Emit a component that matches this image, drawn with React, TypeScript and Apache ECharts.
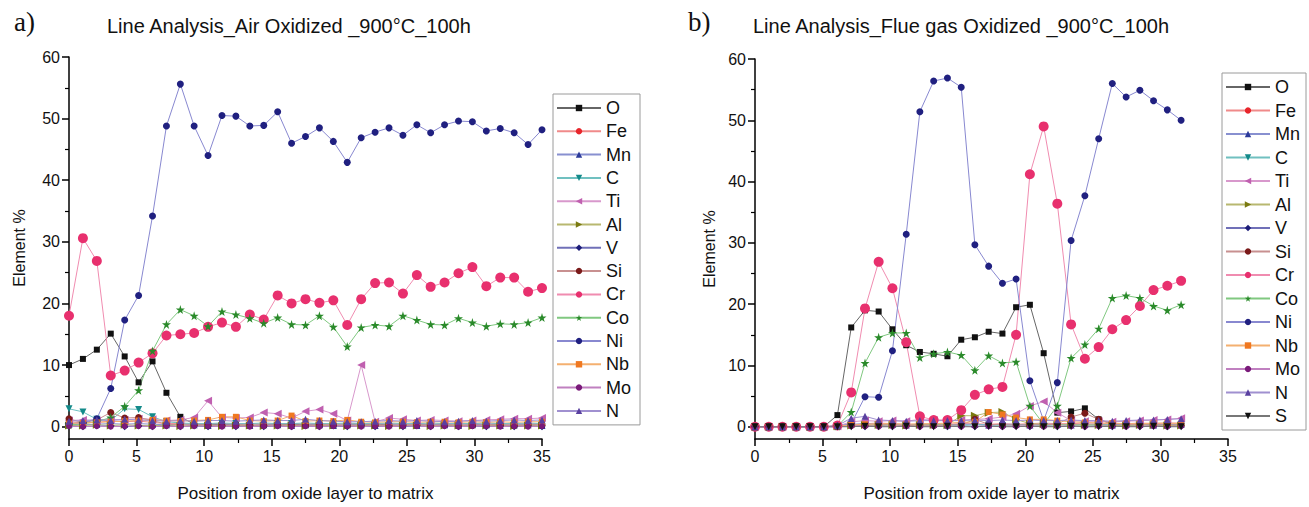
import React, { useEffect, useRef } from "react";
import * as echarts from "echarts";

// ---------- positions ----------
const posA = [0, 1.03, 2.06, 3.09, 4.12, 5.15, 6.18, 7.21, 8.24, 9.26, 10.29, 11.32, 12.35, 13.38, 14.41, 15.44, 16.47, 17.5, 18.53, 19.56, 20.59, 21.62, 22.65, 23.68, 24.71, 25.74, 26.76, 27.79, 28.82, 29.85, 30.88, 31.91, 32.94, 33.97, 35];
const posB = [0, 1.02, 2.03, 3.05, 4.07, 5.09, 6.1, 7.12, 8.14, 9.15, 10.17, 11.19, 12.2, 13.22, 14.24, 15.26, 16.27, 17.29, 18.31, 19.32, 20.34, 21.36, 22.37, 23.39, 24.41, 25.43, 26.44, 27.46, 28.48, 29.49, 30.51, 31.53];

// ---------- a) Air oxidized ----------
const O_A = [10.0, 11.0, 12.5, 15.1, 11.4, 7.2, 10.6, 5.5, 1.6, 0.4, 0.3, 0.4, 0.3, 0.2, 0.3, 0.3, 0.4, 0.3, 0.3, 0.2, 0.3, 0.3, 0.4, 0.3, 0.2, 0.3, 0.3, 0.3, 0.2, 0.3, 0.3, 0.3, 0.2, 0.3, 0.3];
const Fe_A = [0.8, 0.6, 0.7, 0.9, 0.8, 0.9, 0.7, 0.5, 0.5, 0.4, 0.5, 0.5, 0.4, 0.5, 0.4, 0.5, 0.5, 0.4, 0.5, 0.4, 0.5, 0.5, 0.4, 0.5, 0.4, 0.5, 0.4, 0.5, 0.4, 0.5, 0.4, 0.5, 0.4, 0.5, 0.4];
const Mn_A = [0.4, 0.3, 0.4, 0.5, 0.4, 0.5, 0.4, 0.3, 0.3, 0.3, 0.2, 0.3, 0.3, 0.2, 0.3, 0.3, 0.2, 0.3, 0.3, 0.2, 0.3, 0.3, 0.2, 0.3, 0.3, 0.2, 0.3, 0.3, 0.2, 0.3, 0.3, 0.2, 0.3, 0.3, 0.2];
const C_A = [2.9, 2.4, 1.2, 1.0, 2.9, 2.8, 1.6, 0.8, 0.6, 0.5, 0.5, 0.6, 0.5, 0.5, 0.6, 0.5, 0.5, 0.6, 0.5, 0.5, 0.6, 0.5, 0.5, 0.6, 0.5, 0.5, 0.6, 0.5, 0.5, 0.5, 0.6, 0.5, 0.5, 0.6, 0.5];
const Ti_A = [1.0, 1.1, 1.0, 1.2, 1.1, 1.3, 1.2, 1.0, 1.1, 1.5, 4.2, 1.5, 1.4, 1.5, 2.3, 2.1, 1.4, 2.5, 2.8, 2.1, 1.0, 10.0, 0.8, 1.4, 1.2, 1.0, 1.1, 1.0, 0.9, 1.0, 1.1, 1.2, 1.3, 1.3, 1.4];
const Al_A = [0.2, 0.2, 0.3, 0.2, 0.3, 0.2, 0.2, 0.2, 0.1, 0.2, 0.2, 0.1, 0.2, 0.2, 0.1, 0.2, 0.2, 0.1, 0.2, 0.2, 0.1, 0.2, 0.2, 0.1, 0.2, 0.2, 0.1, 0.2, 0.2, 0.1, 0.2, 0.2, 0.1, 0.2, 0.2];
const V_A = [0.1, 0.0, 0.1, 0.1, 0.0, 0.1, 0.0, 0.1, 0.0, 0.1, 0.0, 0.1, 0.0, 0.1, 0.0, 0.1, 0.0, 0.1, 0.0, 0.1, 0.0, 0.1, 0.0, 0.1, 0.0, 0.1, 0.0, 0.1, 0.0, 0.1, 0.0, 0.1, 0.0, 0.1, 0.0];
const Si_A = [1.3, 0.6, 1.1, 2.3, 1.4, 1.5, 1.0, 0.4, 0.3, 0.3, 0.3, 0.2, 0.3, 0.3, 0.2, 0.3, 0.3, 0.2, 0.3, 0.3, 0.2, 0.3, 0.3, 0.2, 0.3, 0.3, 0.2, 0.3, 0.3, 0.2, 0.3, 0.3, 0.2, 0.3, 0.3];
const Cr_A = [18.0, 30.6, 26.9, 8.3, 9.1, 10.4, 11.9, 14.8, 15.0, 15.2, 16.2, 16.9, 16.2, 18.2, 17.4, 21.3, 20.0, 20.7, 20.1, 20.5, 16.5, 20.7, 23.3, 23.4, 21.6, 24.6, 22.7, 23.4, 24.9, 25.9, 22.8, 24.2, 24.2, 21.9, 22.5];
const Co_A = [0.3, 0.5, 0.8, 1.5, 3.3, 5.9, 12.3, 16.6, 19.0, 18.0, 16.3, 18.7, 18.2, 17.6, 16.8, 17.7, 16.6, 16.5, 18.0, 16.2, 13.0, 16.1, 16.5, 16.3, 18.0, 17.3, 16.6, 16.5, 17.6, 16.9, 16.3, 16.7, 16.6, 16.9, 17.7];
const Ni_A = [0.5, 0.6, 1.3, 6.2, 17.3, 21.3, 34.2, 48.8, 55.6, 48.8, 44.0, 50.5, 50.4, 48.8, 48.9, 51.1, 46.0, 47.1, 48.5, 46.3, 42.9, 46.9, 47.8, 48.5, 47.3, 49.0, 47.7, 49.0, 49.6, 49.5, 48.0, 48.4, 47.7, 45.8, 48.2];
const Nb_A = [0.5, 0.6, 0.7, 0.8, 0.9, 1.0, 1.1, 1.0, 0.9, 1.0, 1.1, 1.6, 1.6, 1.0, 0.9, 1.0, 1.8, 0.9, 1.0, 0.9, 1.1, 0.8, 0.7, 0.8, 0.8, 0.7, 0.8, 0.8, 0.7, 0.8, 0.7, 0.8, 0.7, 0.8, 0.8];
const Mo_A = [0.1, 0.0, 0.1, 0.0, 0.1, 0.1, 0.0, 0.1, 0.0, 0.1, 0.1, 0.0, 0.1, 0.0, 0.1, 0.1, 0.0, 0.1, 0.0, 0.1, 0.1, 0.0, 0.1, 0.0, 0.1, 0.1, 0.0, 0.1, 0.0, 0.1, 0.1, 0.0, 0.1, 0.0, 0.1];
const N_A = [0.9, 1.0, 1.1, 1.0, 1.2, 1.1, 1.0, 0.9, 1.0, 0.9, 1.0, 1.0, 0.9, 1.0, 1.1, 1.0, 1.0, 1.2, 1.0, 0.9, 0.8, 0.8, 0.9, 1.0, 0.9, 1.0, 0.9, 0.8, 0.9, 1.0, 0.9, 1.0, 1.1, 1.0, 1.1];

// ---------- b) Flue gas oxidized ----------
const O_B = [0, 0, 0, 0, 0, 0, 1.9, 16.2, 19.0, 18.8, 15.9, 13.3, 12.2, 11.9, 11.5, 14.2, 14.6, 15.5, 15.2, 19.5, 19.9, 12.0, 2.3, 2.5, 3.0, 1.2, 0.4, 0.3, 0.3, 0.4, 0.3, 0.3];
const Fe_B = [0, 0, 0, 0, 0, 0, 0.1, 0.3, 0.5, 0.6, 0.5, 0.4, 0.4, 0.5, 0.4, 0.5, 0.5, 0.4, 0.5, 0.4, 0.5, 0.6, 0.5, 0.5, 0.6, 0.6, 0.5, 0.5, 0.6, 0.5, 0.6, 0.6];
const Mn_B = [0, 0, 0, 0, 0, 0, 0.1, 0.4, 0.5, 0.4, 0.4, 0.3, 0.4, 0.4, 0.3, 0.4, 0.4, 0.3, 0.4, 0.4, 0.3, 0.4, 0.4, 0.3, 0.4, 0.4, 0.3, 0.4, 0.4, 0.3, 0.4, 0.4];
const C_B = [0, 0, 0, 0, 0, 0, 0.1, 0.3, 0.3, 0.2, 0.3, 0.3, 0.2, 0.3, 0.3, 0.2, 0.3, 0.3, 0.2, 0.3, 0.3, 0.2, 0.3, 0.3, 0.2, 0.3, 0.3, 0.2, 0.3, 0.3, 0.2, 0.3];
const Ti_B = [0, 0, 0, 0, 0, 0, 0.1, 0.8, 1.0, 0.9, 1.0, 0.9, 1.2, 1.1, 1.0, 1.1, 1.2, 1.3, 1.6, 2.1, 3.4, 4.1, 2.3, 1.0, 0.9, 0.9, 0.8, 0.9, 1.0, 1.1, 1.2, 1.4];
const Al_B = [0, 0, 0, 0, 0, 0, 0.1, 0.2, 0.3, 0.3, 0.3, 0.2, 0.3, 0.3, 0.3, 1.8, 1.8, 2.3, 2.4, 1.2, 0.5, 0.4, 0.3, 0.3, 0.3, 0.3, 0.2, 0.2, 0.3, 0.3, 0.2, 0.2];
const V_B = [0, 0, 0, 0, 0, 0, 0.0, 0.1, 0.0, 0.1, 0.0, 0.1, 0.0, 0.1, 0.0, 0.1, 0.0, 0.1, 0.0, 0.1, 0.0, 0.1, 0.0, 0.1, 0.0, 0.1, 0.0, 0.1, 0.0, 0.1, 0.0, 0.1];
const Si_B = [0, 0, 0, 0, 0, 0, 0.1, 0.2, 0.2, 0.3, 0.3, 0.2, 0.3, 0.2, 0.3, 0.3, 1.2, 0.4, 0.3, 0.3, 0.3, 0.3, 0.4, 1.6, 2.2, 1.2, 0.5, 0.4, 0.3, 0.3, 0.3, 0.3];
const Cr_B = [0, 0, 0, 0, 0, 0, 0.2, 5.6, 19.3, 26.9, 22.6, 13.8, 1.7, 1.1, 1.1, 2.7, 5.2, 6.1, 6.5, 15.0, 41.2, 49.0, 36.4, 16.7, 11.1, 13.0, 15.9, 17.4, 19.7, 22.3, 23.0, 23.8];
const Co_B = [0, 0, 0, 0, 0, 0, 0.1, 2.4, 10.4, 14.6, 15.3, 15.3, 11.3, 11.9, 12.2, 11.7, 9.2, 11.6, 10.4, 10.6, 3.4, 0.4, 3.4, 11.2, 13.4, 16.0, 21.0, 21.4, 21.0, 19.7, 19.0, 19.9];
const Ni_B = [0, 0, 0, 0, 0, 0, 0.1, 0.5, 4.9, 4.8, 12.4, 31.4, 51.4, 56.4, 56.9, 55.4, 29.7, 26.2, 23.4, 24.1, 7.5, 1.0, 7.2, 30.4, 37.7, 47.0, 56.0, 53.8, 54.9, 53.2, 51.7, 50.0];
const Nb_B = [0, 0, 0, 0, 0, 0, 0.1, 0.3, 0.4, 0.5, 0.5, 0.4, 0.5, 0.5, 0.6, 0.7, 0.8, 2.4, 2.0, 1.5, 1.2, 1.2, 1.0, 0.8, 0.7, 0.6, 0.6, 0.5, 0.5, 0.6, 0.6, 0.5];
const Mo_B = [0, 0, 0, 0, 0, 0, 0.0, 0.1, 0.1, 0.0, 0.1, 0.1, 0.0, 0.1, 0.1, 0.0, 0.1, 0.1, 0.0, 0.1, 0.1, 0.0, 0.1, 0.1, 0.0, 0.1, 0.1, 0.0, 0.1, 0.1, 0.0, 0.1];
const N_B = [0, 0, 0, 0, 0, 0, 0.2, 1.4, 1.7, 1.1, 1.0, 0.9, 1.0, 1.0, 1.0, 1.0, 1.1, 1.0, 1.1, 1.0, 1.1, 1.0, 1.0, 1.1, 1.0, 1.0, 0.9, 1.0, 1.1, 1.1, 1.2, 1.3];
const S_B = [0, 0, 0, 0, 0, 0, 0.0, 0.0, 0.1, 0.0, 0.0, 0.1, 0.0, 0.0, 0.1, 0.0, 0.0, 0.1, 0.0, 0.0, 0.1, 0.0, 0.0, 0.1, 0.0, 0.0, 0.1, 0.0, 0.0, 0.1, 0.0, 0.0];

const namesA = ["O", "Fe", "Mn", "C", "Ti", "Al", "V", "Si", "Cr", "Co", "Ni", "Nb", "Mo", "N"];
const namesB = ["O", "Fe", "Mn", "C", "Ti", "Al", "V", "Si", "Cr", "Co", "Ni", "Nb", "Mo", "N", "S"];
const valuesA = [O_A, Fe_A, Mn_A, C_A, Ti_A, Al_A, V_A, Si_A, Cr_A, Co_A, Ni_A, Nb_A, Mo_A, N_A];
const valuesB = [O_B, Fe_B, Mn_B, C_B, Ti_B, Al_B, V_B, Si_B, Cr_B, Co_B, Ni_B, Nb_B, Mo_B, N_B, S_B];

const yLabels = [0, 10, 20, 30, 40, 50, 60];
const yMinor = [5, 15, 25, 35, 45, 55];

const STAR = "path://M50,0 L61,35 L98,35 L68,57 L79,91 L50,70 L21,91 L32,57 L2,35 L39,35 Z";

const styles: Record<string, { m: string; l: string; sym: string; size: number; rot?: number }> = {
  O: { m: "#111111", l: "#666666", sym: "rect", size: 6 },
  Fe: { m: "#e8252b", l: "#f08a8a", sym: "circle", size: 6 },
  Mn: { m: "#2b3a9a", l: "#8890d0", sym: "triangle", size: 7 },
  C: { m: "#138a8a", l: "#70c0c0", sym: "triangle", size: 7, rot: 180 },
  Ti: { m: "#c060b0", l: "#d898cc", sym: "triangle", size: 8, rot: 90 },
  Al: { m: "#7a7a10", l: "#b8b870", sym: "triangle", size: 8, rot: -90 },
  V: { m: "#1c1c78", l: "#7070b8", sym: "diamond", size: 7 },
  Si: { m: "#7a1a1a", l: "#c89090", sym: "circle", size: 7 },
  Cr: { m: "#e8306e", l: "#f08cb0", sym: "circle", size: 10 },
  Co: { m: "#2a8a2a", l: "#80c880", sym: STAR, size: 9 },
  Ni: { m: "#202080", l: "#8888d0", sym: "circle", size: 7 },
  Nb: { m: "#f07820", l: "#f4b070", sym: "rect", size: 6 },
  Mo: { m: "#7a1a7a", l: "#c080c0", sym: "circle", size: 6 },
  N: { m: "#5a40a0", l: "#a090d0", sym: "triangle", size: 7 },
  S: { m: "#111111", l: "#777777", sym: "triangle", size: 7, rot: 180 },
};

const FONT = "'Liberation Sans', Arial, sans-serif";

function makeSeries(names: string[], values: number[][], pos: number[], xi: number, yi: number) {
  return names.map((n, k) => {
    const s = styles[n];
    return {
      name: n,
      type: "line",
      xAxisIndex: xi,
      yAxisIndex: yi,
      data: values[k].map((v, i) => [pos[i], v]),
      symbol: s.sym,
      symbolSize: s.size,
      symbolRotate: s.rot || 0,
      showAllSymbol: true,
      lineStyle: { color: s.l, width: 1 },
      itemStyle: { color: s.m },
      emphasis: { disabled: true },
    };
  });
}

function xAxisDef(gi: number) {
  return {
    type: "value",
    gridIndex: gi,
    min: 0,
    max: 35,
    interval: 5,
    axisLine: { onZero: false, lineStyle: { color: "#000", width: 1.5 } },
    axisTick: { length: 7, lineStyle: { color: "#000", width: 1.5 } },
    minorTick: { show: true, splitNumber: 2, length: 4, lineStyle: { color: "#000", width: 1.2 } },
    axisLabel: { color: "#111", fontSize: 16, fontFamily: FONT, margin: 9 },
    splitLine: { show: false },
    name: "Position from oxide layer to matrix",
    nameLocation: "middle",
    nameGap: 46,
    nameTextStyle: { color: "#111", fontSize: 17, fontFamily: FONT },
  };
}

function yAxisMain(gi: number, gap: number) {
  return {
    type: "value",
    gridIndex: gi,
    min: -2,
    max: 60,
    position: "left",
    axisLine: { show: true, onZero: false, lineStyle: { color: "#000", width: 1.5 } },
    axisTick: { show: true, length: 7, customValues: yLabels, lineStyle: { color: "#000", width: 1.5 } },
    axisLabel: { color: "#111", fontSize: 16, fontFamily: FONT, margin: 9, customValues: yLabels },
    splitLine: { show: false },
    name: "Element %",
    nameLocation: "middle",
    nameGap: gap,
    nameRotate: 90,
    nameTextStyle: { color: "#111", fontSize: 16, fontFamily: FONT },
  };
}

function yAxisMinor(gi: number) {
  return {
    type: "value",
    gridIndex: gi,
    min: -2,
    max: 60,
    position: "left",
    offset: 0,
    axisLine: { show: false },
    axisTick: { show: true, length: 4, customValues: yMinor, lineStyle: { color: "#000", width: 1.2 } },
    axisLabel: { show: false, customValues: yMinor },
    splitLine: { show: false },
  };
}

function legendDef(names: string[], left: number, top: number, gap: number, padRight: number) {
  return {
    orient: "vertical",
    left,
    top,
    data: names,
    itemWidth: 44,
    itemHeight: 8,
    itemGap: gap,
    selectedMode: false,
    borderColor: "#9a9a9a",
    borderWidth: 1,
    borderRadius: 0,
    padding: [5, padRight, 5, 3],
    textStyle: { color: "#111", fontSize: 18, fontFamily: FONT, lineHeight: 18 },
  };
}

export default function App() {
  const ref = useRef<HTMLDivElement>(null);
  useEffect(() => {
    const chart = echarts.init(ref.current as HTMLDivElement, null, { renderer: "svg" });
    const option = {
      animation: false,
      backgroundColor: "#fff",
      title: [
        { text: "Line Analysis_Air Oxidized _900°C_100h", left: 102, top: 11, textStyle: { fontSize: 20, fontWeight: "normal", color: "#111", fontFamily: FONT } },
        { text: "Line Analysis_Flue gas Oxidized _900°C_100h", left: 748, top: 11, textStyle: { fontSize: 20, fontWeight: "normal", color: "#111", fontFamily: FONT } },
      ],
      graphic: [
        { type: "text", left: 14, top: 8, style: { text: "a)", fontSize: 27, fontFamily: "'Liberation Serif', 'Times New Roman', serif", fill: "#111" } },
        { type: "text", left: 688, top: 8, style: { text: "b)", fontSize: 27, fontFamily: "'Liberation Serif', 'Times New Roman', serif", fill: "#111" } },
      ],
      grid: [
        { left: 69, top: 57, width: 473, height: 384 },
        { left: 755, top: 59, width: 473, height: 387 },
      ],
      xAxis: [xAxisDef(0), xAxisDef(1)],
      yAxis: [yAxisMain(0, 42), yAxisMinor(0), yAxisMain(1, 38), yAxisMinor(1)],
      legend: [legendDef(namesA, 553, 94, 5.3, 9), legendDef(namesB, 1222, 73, 5.5, 6)],
      series: [...makeSeries(namesA, valuesA, posA, 0, 0), ...makeSeries(namesB, valuesB, posB, 1, 2)],
    };
    chart.setOption(option as any);
    return () => chart.dispose();
  }, []);
  return <div ref={ref} style={{ position: "fixed", left: 0, top: 0, width: 1309, height: 507, background: "#fff" }} />;
}
